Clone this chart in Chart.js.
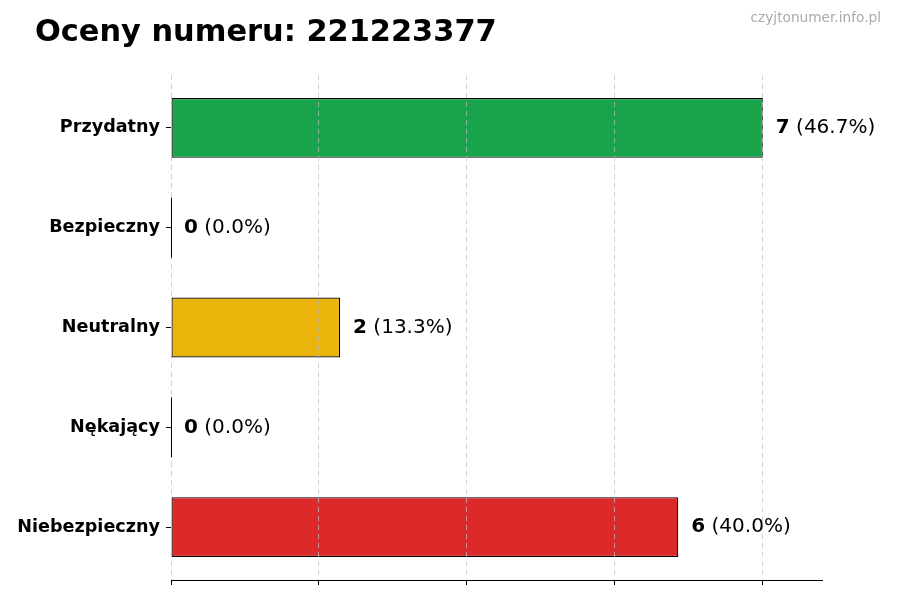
<!DOCTYPE html>
<html>
<head>
<meta charset="utf-8">
<script src="https://cdn.jsdelivr.net/npm/chart.js@4.4.1/dist/chart.umd.min.js"></script>
<style>
  html, body { margin: 0; padding: 0; background: #fff; }
  #wrap { position: relative; width: 900px; height: 600px; }
  #title { position: absolute; left: 35px; top: 16px; font: bold 30.4px/30px "DejaVu Sans", sans-serif; color: #000; white-space: nowrap; }
  #wm { position: absolute; right: 19px; top: 10px; font: 13.7px/14px "DejaVu Sans", sans-serif; color: #aaaaaa; white-space: nowrap; }
  canvas { position: absolute; left: 0; top: 0; }
</style>
</head>
<body>
<div id="wrap">
  <canvas id="c" width="900" height="600"></canvas>
  <div id="title">Oceny numeru: 221223377</div>
  <div id="wm">czyjtonumer.info.pl</div>
</div>
<script>
const categories = ["Przydatny", "Bezpieczny", "Neutralny", "Nękający", "Niebezpieczny"];
const counts = [7, 0, 2, 0, 6];
const barColors = ["rgba(22,163,74,0.99)", "rgba(100,116,139,0.99)", "rgba(234,179,8,0.99)", "rgba(249,115,22,0.99)", "rgba(220,38,38,0.99)"];
const xTickValues = [0, 1.75, 3.5, 5.25, 7];
const xMax = 7.7;

const total = counts.reduce((a, b) => a + b, 0);

const labelPlugin = {
  id: 'barLabels',
  afterDraw(chart) {
    const ctx = chart.ctx;
    const meta = chart.getDatasetMeta(0);
    ctx.save();
    meta.data.forEach((el, i) => {
      const p = el.getProps(['x', 'y', 'base', 'height'], true);
      const v = counts[i];
      if (v === 0) {
        ctx.strokeStyle = '#000';
        ctx.lineWidth = 1;
        ctx.beginPath();
        ctx.moveTo(Math.round(p.x) + 0.5, p.y - p.height / 2);
        ctx.lineTo(Math.round(p.x) + 0.5, p.y + p.height / 2);
        ctx.stroke();
      }
      const pct = (total ? v / total * 100 : 0).toFixed(1);
      let x = p.x + 13;
      ctx.textBaseline = 'middle';
      ctx.textAlign = 'left';
      ctx.fillStyle = '#000';
      ctx.font = 'bold 20px "DejaVu Sans"';
      const bold = String(v);
      ctx.fillText(bold, x, p.y);
      x += ctx.measureText(bold).width;
      ctx.font = '20px "DejaVu Sans"';
      ctx.fillText(' (' + pct + '%)', x, p.y);
    });
    ctx.restore();
  }
};

new Chart(document.getElementById('c'), {
  type: 'bar',
  data: {
    datasets: [{
      data: categories.map((c, i) => ({ x: counts[i], y: i })),
      backgroundColor: barColors,
      borderColor: '#000',
      borderWidth: 1.2,
      borderSkipped: false,
      barPercentage: 0.6,
      categoryPercentage: 1.0
    }]
  },
  options: {
    indexAxis: 'y',
    responsive: false,
    animation: false,
    devicePixelRatio: 1,
    layout: { padding: { left: 0, top: 75, right: 78, bottom: 0 } },
    plugins: { legend: { display: false }, tooltip: { enabled: false }, title: { display: false } },
    scales: {
      x: {
        type: 'linear',
        position: 'bottom',
        min: 0,
        max: xMax,
        offset: false,
        afterBuildTicks: (s) => { s.ticks = xTickValues.map(v => ({ value: v })); },
        afterFit: (s) => { s.height = 20; },
        ticks: { display: false, z: 2 },
        grid: {
          display: true,
          offset: false,
          drawOnChartArea: true,
          drawTicks: true,
          tickLength: 5,
          color: 'rgba(190,190,190,0.7)',
          tickColor: '#000',
          lineWidth: 1,
          z: 1
        },
        border: { display: true, color: '#000', width: 1, dash: [5, 4], z: 2 }
      },
      y: {
        type: 'linear',
        position: 'left',
        reverse: true,
        offset: false,
        min: -0.53,
        max: 4.53,
        afterBuildTicks: (s) => { s.ticks = categories.map((c, i) => ({ value: i })); },
        afterFit: (s) => { s.width = 171; },
        ticks: {
          callback: (v) => categories[v],
          color: '#000',
          padding: 6,
          font: { family: '"DejaVu Sans"', size: 17.6, weight: 'bold' }
        },
        grid: {
          display: true,
          offset: false,
          drawOnChartArea: false,
          drawTicks: true,
          tickLength: 5,
          color: '#000',
          tickColor: '#000'
        },
        border: { display: false }
      }
    }
  },
  plugins: [labelPlugin]
});
</script>
</body>
</html>
